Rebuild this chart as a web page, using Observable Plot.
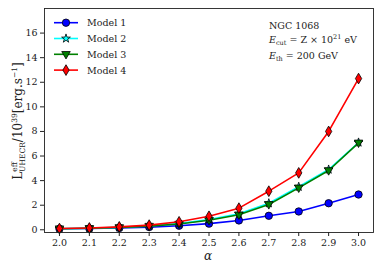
<!DOCTYPE html>
<html><head><meta charset="utf-8">
<script src="https://cdn.jsdelivr.net/npm/d3@7"></script>
<script src="https://cdn.jsdelivr.net/npm/@observablehq/plot@0.6"></script>
<style>body{margin:0;background:#fff}</style>
</head><body><div id="chart"></div>
<script>
const alpha  = [2.0, 2.1, 2.2, 2.3, 2.4, 2.5, 2.6, 2.7, 2.8, 2.9, 3.0];
const model1 = [0.08, 0.10, 0.15, 0.22, 0.33, 0.50, 0.76, 1.14, 1.49, 2.16, 2.87];
const model2 = [0.09, 0.13, 0.20, 0.32, 0.50, 0.84, 1.30, 2.16, 3.50, 4.90, 7.10];
const model3 = [0.09, 0.12, 0.19, 0.30, 0.47, 0.78, 1.22, 2.06, 3.41, 4.82, 7.07];
const model4 = [0.10, 0.15, 0.24, 0.38, 0.65, 1.10, 1.76, 3.14, 4.63, 8.00, 12.30];
const seriesNames  = ["Model 1", "Model 2", "Model 3", "Model 4"];
const seriesColors = ["#0000ff", "#00ffff", "#008000", "#ff0000"];
const xTicks = [2.0, 2.1, 2.2, 2.3, 2.4, 2.5, 2.6, 2.7, 2.8, 2.9, 3.0];
const yTicks = [0, 2, 4, 6, 8, 10, 12, 14, 16];

const FONT = "DejaVu Serif";

// custom marker shapes
const thinDiamond = {draw(ctx, size) {
  const r = Math.sqrt(size / Math.PI);
  ctx.moveTo(0, -1.45 * r); ctx.lineTo(0.85 * r, 0); ctx.lineTo(0, 1.45 * r); ctx.lineTo(-0.85 * r, 0); ctx.closePath();
}};
const downTriangle = {draw(ctx, size) {
  const r = Math.sqrt(size / Math.PI);
  ctx.moveTo(-1.15 * r, -0.75 * r); ctx.lineTo(1.15 * r, -0.75 * r); ctx.lineTo(0, 1.25 * r); ctx.closePath();
}};
const starSym = {draw(ctx, size) { d3.symbolStar.draw(ctx, size * 0.55); }};
const seriesSymbols = [d3.symbolCircle, starSym, downTriangle, thinDiamond];
const seriesValues = [model1, model2, model3, model4];

const marks = [];
seriesValues.forEach((vals, i) => {
  const rows = alpha.map((a, j) => ({alpha: a, value: vals[j]}));
  marks.push(Plot.line(rows, {x: "alpha", y: "value", stroke: seriesColors[i], strokeWidth: 1.6}));
  marks.push(Plot.dot(rows, {x: "alpha", y: "value", symbol: seriesSymbols[i], r: 3.7,
    fill: seriesColors[i], stroke: "#000", strokeWidth: 0.8}));
});

const chart = Plot.plot({
  width: 381, height: 272,
  marginLeft: 44, marginRight: 8, marginTop: 8, marginBottom: 40,
  style: {fontFamily: FONT, fontSize: "9.5px", color: "#222", background: "#fff"},
  x: {domain: [1.95, 3.05]},
  y: {domain: [-0.22, 18.0]},
  marks: [
    ...marks,
    Plot.frame({stroke: "#222", strokeWidth: 0.9}),
    Plot.axisX({ticks: xTicks, tickFormat: d3.format(".1f"), tickSize: 4, tickPadding: 3, label: null, stroke: "#222"}),
    Plot.axisY({ticks: yTicks, tickSize: 4, tickPadding: 3, label: null, stroke: "#222"})
  ]
});
document.getElementById("chart").appendChild(chart);

const svg = d3.select(chart);
// legend
const leg = svg.append("g").attr("font-family", FONT).attr("font-size", 9.5).attr("fill", "#222").attr("text-anchor", "start");
seriesNames.forEach((name, i) => {
  const y = 22.7 + i * 15.8;
  leg.append("line").attr("x1", 54).attr("x2", 78).attr("y1", y).attr("y2", y)
    .attr("stroke", seriesColors[i]).attr("stroke-width", 1.6);
  leg.append("path").attr("transform", `translate(66,${y})`)
    .attr("d", d3.symbol(seriesSymbols[i], Math.PI * 3.7 * 3.7)())
    .attr("fill", seriesColors[i]).attr("stroke", "#000").attr("stroke-width", 0.8);
  leg.append("text").attr("x", 87).attr("y", y + 3.5).text(name);
});

// annotation
const ann = svg.append("g").attr("font-family", FONT).attr("font-size", 9.5).attr("fill", "#222").attr("text-anchor", "start");
ann.append("text").attr("x", 269).attr("y", 29).text("NGC 1068");
const t2 = ann.append("text").attr("x", 269).attr("y", 43);
t2.append("tspan").attr("font-style", "italic").text("E");
t2.append("tspan").attr("font-size", 6.5).attr("dy", 2).text("cut");
t2.append("tspan").attr("dy", -2).text(" = Z × 10");
t2.append("tspan").attr("font-size", 6.5).attr("dy", -4).text("21");
t2.append("tspan").attr("dy", 4).text(" eV");
const t3 = ann.append("text").attr("x", 269).attr("y", 59);
t3.append("tspan").attr("font-style", "italic").text("E");
t3.append("tspan").attr("font-size", 6.5).attr("dy", 2).text("th");
t3.append("tspan").attr("dy", -2).text(" = 200 GeV");

// axis labels
svg.append("text").attr("x", 208).attr("y", 260).attr("text-anchor", "middle")
  .attr("font-family", FONT).attr("font-style", "italic").attr("font-size", 12).attr("fill", "#222").text("α");
const yl = svg.append("text").attr("transform", "translate(22,121) rotate(-90)").attr("text-anchor", "middle")
  .attr("font-family", FONT).attr("font-size", 12).attr("fill", "#222");
yl.append("tspan").text("L");
yl.append("tspan").attr("font-size", 7.5).attr("dy", -5.5).text("eff");
yl.append("tspan").attr("font-size", 7.5).attr("dx", -10).attr("dy", 8.5).text("UHECR");
yl.append("tspan").attr("dy", -3).text("/10");
yl.append("tspan").attr("font-size", 7.5).attr("dy", -5.5).text("39");
yl.append("tspan").attr("dy", 5.5).text("[erg.s");
yl.append("tspan").attr("font-size", 7.5).attr("dy", -5.5).text("−1");
yl.append("tspan").attr("dy", 5.5).text("]");
</script></body></html>
